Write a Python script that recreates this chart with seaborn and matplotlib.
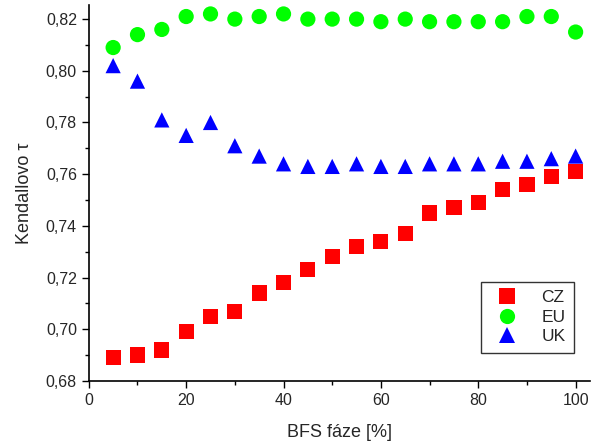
import pandas as pd
import matplotlib.pyplot as plt
import seaborn as sns
from matplotlib.ticker import MultipleLocator, FuncFormatter

# BFS phase in percent
phase = [5, 10, 15, 20, 25, 30, 35, 40, 45, 50, 55, 60, 65, 70, 75, 80, 85, 90, 95, 100]

cz = [0.689, 0.690, 0.692, 0.699, 0.705, 0.707, 0.714, 0.718, 0.723, 0.728,
      0.732, 0.734, 0.737, 0.745, 0.747, 0.749, 0.754, 0.756, 0.759, 0.761]
eu = [0.809, 0.814, 0.816, 0.821, 0.822, 0.820, 0.821, 0.822, 0.820, 0.820,
      0.820, 0.819, 0.820, 0.819, 0.819, 0.819, 0.819, 0.821, 0.821, 0.815]
uk = [0.802, 0.796, 0.781, 0.775, 0.780, 0.771, 0.767, 0.764, 0.763, 0.763,
      0.764, 0.763, 0.763, 0.764, 0.764, 0.764, 0.765, 0.765, 0.766, 0.767]

series = ["CZ", "EU", "UK"]
colors = {"CZ": "#ff0000", "EU": "#00ff00", "UK": "#0000ff"}
markers = {"CZ": "s", "EU": "o", "UK": "^"}

df = pd.DataFrame({
    "phase": phase * 3,
    "tau": cz + eu + uk,
    "dataset": ["CZ"] * len(cz) + ["EU"] * len(eu) + ["UK"] * len(uk),
})

sns.set_style("ticks")
plt.rcParams["font.family"] = ["Liberation Sans", "DejaVu Sans"]

fig = plt.figure(figsize=(5.92, 4.45), dpi=100)
ax = fig.add_axes([0.150, 0.144, 0.847, 0.845])

sns.scatterplot(data=df, x="phase", y="tau", hue="dataset", style="dataset",
                hue_order=series, style_order=series, palette=colors,
                markers=markers, s=120, linewidth=0, ax=ax)

ax.set_xlim(0, 103)
ax.set_ylim(0.68, 0.8255)
ax.xaxis.set_major_locator(MultipleLocator(20))
ax.xaxis.set_minor_locator(MultipleLocator(10))
ax.yaxis.set_major_locator(MultipleLocator(0.02))
ax.yaxis.set_minor_locator(MultipleLocator(0.01))
ax.yaxis.set_major_formatter(FuncFormatter(lambda v, p: f"{v:.2f}".replace(".", ",")))
ax.tick_params(which="major", length=5, width=1, labelsize=11.5, color="black")
ax.tick_params(which="minor", length=3, width=1, color="black")
for side in ["left", "bottom"]:
    ax.spines[side].set_linewidth(1.2)
    ax.spines[side].set_color("black")
sns.despine(ax=ax)

ax.set_xlabel("BFS fáze [%]", fontsize=13, labelpad=12)
ax.set_ylabel("Kendallovo τ", fontsize=13, labelpad=9)

leg = ax.legend(loc="lower right", bbox_to_anchor=(0.968, 0.074), fontsize=12.5,
                frameon=True, fancybox=False, edgecolor="black",
                handletextpad=1.0, borderpad=0.5, labelspacing=0.25,
                borderaxespad=0, markerscale=1.0)
leg.get_frame().set_linewidth(1.0)
leg.set_title(None)

fig.savefig("out.png", dpi=100)
